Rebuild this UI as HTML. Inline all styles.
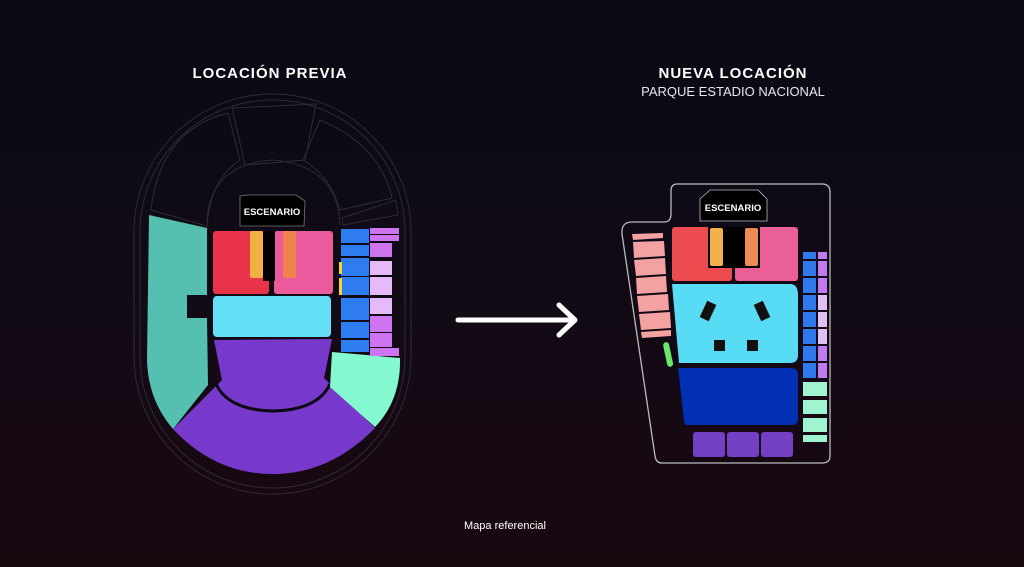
<!DOCTYPE html>
<html><head><meta charset="utf-8"><style>
html,body{margin:0;padding:0}
body{width:1024px;height:567px;overflow:hidden;background:linear-gradient(180deg,#0b0914 0%,#0f0a16 40%,#1a0811 100%);font-family:"Liberation Sans",sans-serif;position:relative}
.t{position:absolute;color:#fff;text-align:center;white-space:nowrap}
</style></head><body>
<div class="t" style="left:170px;width:200px;top:65px;font-weight:bold;font-size:15px;letter-spacing:1px">LOCACIÓN PREVIA</div>
<div class="t" style="left:633px;width:200px;top:65px;font-weight:bold;font-size:15px;letter-spacing:1px">NUEVA LOCACIÓN</div>
<div class="t" style="left:613px;width:240px;top:84px;font-size:13px;color:#e8e6ee">PARQUE ESTADIO NACIONAL</div>
<div class="t" style="left:435px;width:140px;top:520px;font-size:11px">Mapa referencial</div>
<svg width="1024" height="567" style="position:absolute;left:0;top:0">
<g fill="none" stroke="#2e2a36" stroke-width="1">
<rect x="134" y="94" width="277" height="400" rx="138" ry="138"/>
<rect x="140" y="100" width="265" height="388" rx="132" ry="132"/>
<path d="M151 210 Q160 130 228 113 L240 160 Q210 180 207 226 Z"/>
<path d="M232 108 L316 104 L305 160 L245 165 Z"/>
<path d="M320 120 Q380 145 392 198 L340 210 Q330 175 303 160 Z"/>
<path d="M342 218 L396 200 L398 215 L343 225 Z"/>
<path d="M207 230 Q205 165 272 160 Q338 165 340 225"/>
</g>
<path d="M149 215 L207 228 L207 295 L187 295 L187 318 L207 318 L208 385 L173 429 Q148 400 147 360 Z" fill="#56c0b0"/>
<path d="M214 340 L332 339 L324 378 L375 428 Q330 474 273 474 Q215 474 173 429 L222 380 Z" fill="#7738cc"/>
<path d="M216 384 Q228 410 273 411 Q318 410 330 384" fill="none" stroke="#0e0812" stroke-width="3"/>
<path d="M332 352 L400 358 Q401 400 375 427 L330 387 Z" fill="#84f9d0"/>
<rect x="213" y="231" width="56" height="63" rx="3" fill="#e8334a"/>
<rect x="274" y="231" width="59" height="63" rx="3" fill="#ea5a9c"/>
<rect x="263" y="231" width="12" height="50" fill="#000"/>
<rect x="250" y="231" width="13" height="47" rx="2" fill="#f4b042"/>
<rect x="283" y="231" width="13" height="47" rx="2" fill="#ef834c"/>
<rect x="213" y="296" width="118" height="41" rx="4" fill="#63dff8"/>
<polygon points="240,196 248,195 296,195 305,201 304,226 240,226" fill="#000" stroke="#777" stroke-width="0.8"/>
<text x="272" y="215" fill="#fff" font-size="9.5" font-weight="bold" text-anchor="middle" font-family="Liberation Sans">ESCENARIO</text>
<g fill="#2e7df0">
<rect x="341" y="229" width="28" height="14"/><rect x="341" y="245" width="28" height="11"/><rect x="341" y="258" width="28" height="12"/>
<rect x="341" y="261" width="28" height="15"/><rect x="341" y="277" width="28" height="18"/><rect x="341" y="298" width="28" height="22"/>
<rect x="341" y="322" width="28" height="16"/><rect x="341" y="340" width="28" height="12"/>
</g>
<rect x="339" y="262" width="3" height="12" fill="#f6d430"/><rect x="339" y="278" width="3" height="17" fill="#f6d430"/>
<g fill="#cf74f0">
<rect x="370" y="228" width="29" height="6"/><rect x="370" y="235" width="29" height="6"/><rect x="370" y="243" width="22" height="14"/>
<rect x="370" y="248" width="22" height="9"/><rect x="370" y="316" width="22" height="16"/><rect x="370" y="333" width="22" height="14"/><rect x="370" y="348" width="29" height="8"/>
</g>
<g fill="#e6baf8">
<rect x="370" y="261" width="22" height="14"/><rect x="370" y="277" width="22" height="18"/><rect x="370" y="298" width="22" height="16"/>
</g>
<path d="M458 320 L574 320 M559 305 L575 320 L559 335" stroke="#fff" stroke-width="5" fill="none" stroke-linecap="round" stroke-linejoin="round"/>
<path d="M677 184 L822 184 Q830 184 830 192 L830 456 Q830 463 822 463 L662 463 Q656 463 655 456 L622 234 Q621 222 632 222 L664 222 Q671 222 671 214 L671 191 Q671 184 677 184 Z" fill="none" stroke="#bbb" stroke-width="1.3"/>
<polygon points="700,199 710,190 758,190 767,199 767,221 700,221" fill="#000" stroke="#bbb" stroke-width="0.8"/>
<text x="733" y="211" fill="#fff" font-size="9.5" font-weight="bold" text-anchor="middle" font-family="Liberation Sans">ESCENARIO</text>
<g fill="#f4a1a2">
<polygon points="632,234 663,233 663,238 633,240"/><polygon points="633,242 664,241 665,256 634,258"/>
<polygon points="634,260 665,258 666,274 636,276"/><polygon points="636,278 666,276 667,292 637,294"/>
<polygon points="637,296 668,294 669,310 639,312"/><polygon points="639,314 670,312 671,328 641,330"/>
<polygon points="641,332 671,330 671,336 642,338"/>
</g>
<rect x="665" y="342" width="6" height="25" rx="3" fill="#68e76a" transform="rotate(-12 668 354)"/>
<rect x="672" y="227" width="60" height="54" rx="3" fill="#ec4b50"/>
<rect x="735" y="227" width="63" height="54" rx="3" fill="#ea5f98"/>
<rect x="708" y="227" width="52" height="41" fill="#000"/>
<rect x="710" y="228" width="13" height="38" rx="2" fill="#f4b04a"/>
<rect x="745" y="228" width="13" height="38" rx="2" fill="#ef8a52"/>
<path d="M672 284 L790 284 Q798 284 798 295 L798 355 Q798 363 790 363 L679 363 Z" fill="#58dcf6"/>
<g fill="#111">
<rect x="703" y="302" width="10" height="18" transform="rotate(25 708 311)"/>
<rect x="757" y="302" width="10" height="18" transform="rotate(-25 762 311)"/>
<rect x="714" y="340" width="11" height="11"/><rect x="747" y="340" width="11" height="11"/>
</g>
<path d="M678 368 L791 368 Q798 368 798 375 L798 420 Q798 425 791 425 L688 425 Q684 425 684 420 Z" fill="#0230b5"/>
<g fill="#7340c4">
<rect x="693" y="432" width="32" height="25" rx="3"/><rect x="727" y="432" width="32" height="25" rx="3"/><rect x="761" y="432" width="32" height="25" rx="3"/>
</g>
<g fill="#2e7aea">
<rect x="803" y="252" width="13" height="7"/><rect x="803" y="261" width="13" height="15"/><rect x="803" y="278" width="13" height="15"/>
<rect x="803" y="295" width="13" height="15"/><rect x="803" y="312" width="13" height="15"/><rect x="803" y="329" width="13" height="15"/>
<rect x="803" y="346" width="13" height="15"/><rect x="803" y="363" width="13" height="15"/>
</g>
<g fill="#c27af0">
<rect x="818" y="252" width="9" height="7"/><rect x="818" y="261" width="9" height="15"/><rect x="818" y="278" width="9" height="15"/>
<rect x="818" y="346" width="9" height="15"/><rect x="818" y="363" width="9" height="15"/>
</g>
<g fill="#e2c0f4"><rect x="818" y="295" width="9" height="15"/><rect x="818" y="312" width="9" height="15"/><rect x="818" y="329" width="9" height="15"/></g>
<g fill="#9ef5cf">
<rect x="803" y="382" width="24" height="14"/><rect x="803" y="400" width="24" height="14"/><rect x="803" y="418" width="24" height="14"/><rect x="803" y="435" width="24" height="7"/>
</g>
</svg>
</body></html>
